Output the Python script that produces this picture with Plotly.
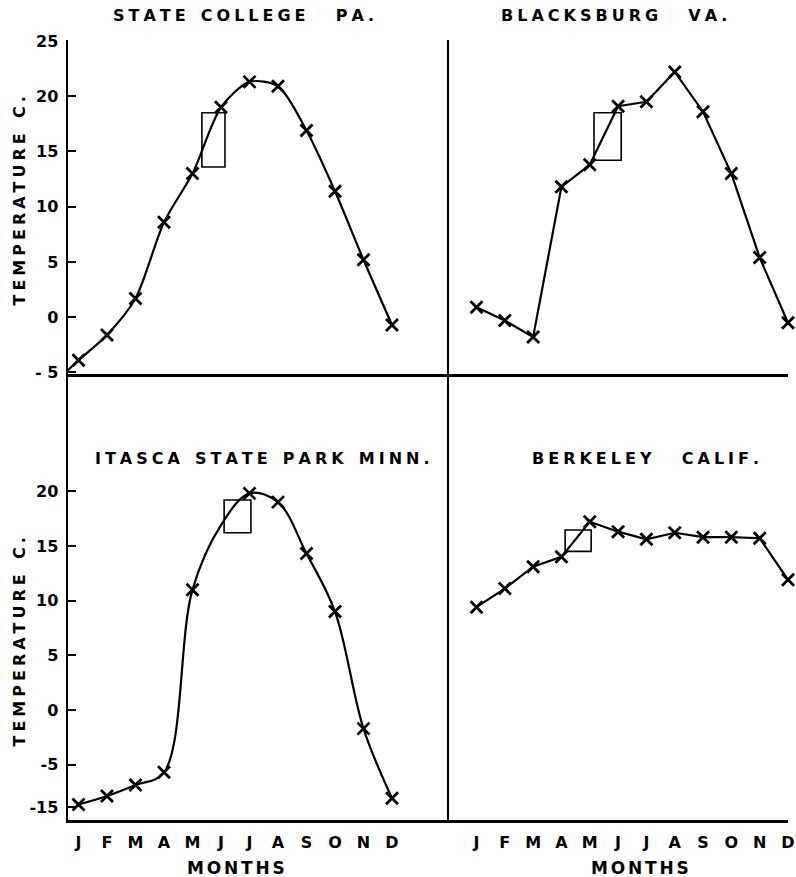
import plotly.graph_objects as go

# ---------------- data ----------------
months = ["J", "F", "M", "A", "M", "J", "J", "A", "S", "O", "N", "D"]
month_idx = list(range(12))

state_college = [-3.9, -1.6, 1.7, 8.6, 13.0, 19.0, 21.3, 20.9, 16.9, 11.4, 5.2, -0.7]
state_college_at_axis = -4.8          # where the curve meets the y axis (left of Jan)
blacksburg = [0.9, -0.3, -1.8, 11.8, 13.8, 19.1, 19.5, 22.2, 18.6, 13.0, 5.4, -0.5]
itasca = [-14.4, -12.4, -9.8, -6.8, 11.0, 16.9, 19.8, 19.0, 14.3, 9.0, -1.7, -12.9]
itasca_marked = [True, True, True, True, True, False, True, True, True, True, True, True]
berkeley = [9.4, 11.1, 13.1, 14.0, 17.2, 16.3, 15.6, 16.2, 15.8, 15.8, 15.7, 11.9]

# small rectangles drawn in each panel: (month from, month to, deg low, deg high)
box_state_college = (4.33, 5.14, 13.6, 18.5)
box_blacksburg = (4.15, 5.11, 14.2, 18.5)
box_itasca = (5.11, 6.05, 16.2, 19.2)
box_berkeley = (3.13, 4.05, 14.5, 16.45)

top_ticks = [25, 20, 15, 10, 5, 0, -5]
top_ticktext = ["25", "20", "15", "10", "5", "0", "- 5"]
bottom_ticks = [20, 15, 10, 5, 0, -5, -15]
bottom_ticktext = ["20", "15", "10", "5", "0", "-5", "-15"]

titles = ["STATE COLLEGE  PA.", "BLACKSBURG  VA.", "ITASCA STATE PARK MINN.", "BERKELEY  CALIF."]

# The lower-left axis is broken: the stretch below -5 is compressed.
BREAK = -5.0
COMPRESS = 0.3867


def brk(v):
    return v if v >= BREAK else BREAK + (v - BREAK) * COMPRESS


FONT = "DejaVu Sans"
LG = "\u2005"                     # letter gap
WG = "\u00a0\u00a0\u2005"         # word gap


def spaced(s, gap=LG, wordgap=WG):
    out = []
    for w in s.split(" "):
        out.append(gap.join(list(w)) if w else "")
    return wordgap.join(out)


fig = go.Figure()

line = dict(color="black", width=2.2)
mk = dict(symbol="x-thin", size=12, color="black", line=dict(color="black", width=2.8))

# State College (top-left)
fig.add_trace(go.Scatter(x=[-0.368] + month_idx, y=[state_college_at_axis] + state_college,
                         mode="lines", line=dict(shape="spline", smoothing=0.8, **line),
                         xaxis="x", yaxis="y", hoverinfo="skip", cliponaxis=False))
fig.add_trace(go.Scatter(x=month_idx, y=state_college, mode="markers", marker=mk,
                         xaxis="x", yaxis="y", cliponaxis=False))

# Blacksburg (top-right)
fig.add_trace(go.Scatter(x=month_idx, y=blacksburg, mode="lines+markers", line=line, marker=mk,
                         xaxis="x2", yaxis="y2", cliponaxis=False))

# Itasca (bottom-left)
it_plot = [brk(v) for v in itasca]
fig.add_trace(go.Scatter(x=month_idx, y=it_plot, mode="lines",
                         line=dict(shape="spline", smoothing=1.0, **line),
                         xaxis="x3", yaxis="y3", cliponaxis=False))
fig.add_trace(go.Scatter(x=[m for m, k in zip(month_idx, itasca_marked) if k],
                         y=[v for v, k in zip(it_plot, itasca_marked) if k],
                         mode="markers", marker=mk, xaxis="x3", yaxis="y3", cliponaxis=False))

# Berkeley (bottom-right)
fig.add_trace(go.Scatter(x=month_idx, y=berkeley, mode="lines+markers", line=line, marker=mk,
                         xaxis="x4", yaxis="y4", cliponaxis=False))

# rectangles
for (x0, x1, y0, y1), (xr, yr) in [(box_state_college, ("x", "y")), (box_blacksburg, ("x2", "y2")),
                                   (box_itasca, ("x3", "y3")), (box_berkeley, ("x4", "y4"))]:
    fig.add_shape(type="rect", xref=xr, yref=yr, x0=x0, x1=x1, y0=y0, y1=y1,
                  line=dict(color="black", width=1.6), fillcolor="rgba(0,0,0,0)")

W, H = 796, 877
xl = [68 / W, 449 / W]
xr_ = [449 / W, 788 / W]
yt = [1 - 374 / H, 1 - 40 / H]
yb = [1 - 820 / H, 1 - 374 / H]

tickfont = dict(family=FONT, size=16, color="black", weight="bold")
base_x = dict(showgrid=False, zeroline=False, showline=True, linecolor="black", linewidth=2.5,
              ticks="", fixedrange=True, automargin=False)
base_y = dict(showgrid=False, zeroline=False, showline=True, linecolor="black", linewidth=2.5,
              fixedrange=True, automargin=False)

fig.update_layout(
    template="none",
    width=W, height=H, margin=dict(l=0, r=0, t=0, b=0, pad=0, autoexpand=False),
    paper_bgcolor="white", plot_bgcolor="white", showlegend=False, hovermode=False,
    xaxis=dict(domain=xl, range=[-0.368, 13.0], anchor="y", showticklabels=False, **base_x),
    xaxis2=dict(domain=xr_, range=[-0.97, 11.0], anchor="y2", showticklabels=False, **base_x),
    xaxis3=dict(domain=xl, range=[-0.368, 13.0], anchor="y3", tickmode="array", tickvals=month_idx,
                ticktext=months, tickfont=tickfont, ticklabelstandoff=6, **base_x),
    xaxis4=dict(domain=xr_, range=[-0.97, 11.0], anchor="y4", tickmode="array", tickvals=month_idx,
                ticktext=months, tickfont=tickfont, ticklabelstandoff=6, **base_x),
    yaxis=dict(domain=yt, range=[-5.14, 25.09], anchor="x", tickmode="array", tickvals=top_ticks,
               ticktext=top_ticktext, ticks="inside", ticklen=8, tickwidth=2, tickcolor="black",
               tickfont=tickfont, ticklabelstandoff=4, **base_y),
    yaxis2=dict(domain=yt, range=[-5.14, 25.09], anchor="x2", showticklabels=False, ticks="", **base_y),
    yaxis3=dict(domain=yb, range=[-10.05, 30.71], anchor="x3", tickmode="array",
                tickvals=[brk(v) for v in bottom_ticks], ticktext=bottom_ticktext, ticks="inside",
                ticklen=8, tickwidth=2, tickcolor="black", tickfont=tickfont, ticklabelstandoff=4,
                **base_y),
    yaxis4=dict(domain=yb, range=[-10.05, 30.71], anchor="x4", showticklabels=False, ticks="", **base_y),
)

afont = dict(family=FONT, size=16, color="black", weight="bold")
ann = []
for text, cx, cy in [(titles[0], 243, 16), (titles[1], 614, 16), (titles[2], 262, 459), (titles[3], 645, 458)]:
    ann.append(dict(text=spaced(text), x=cx / W, y=1 - cy / H, xref="paper", yref="paper",
                    showarrow=False, font=afont, xanchor="center", yanchor="middle"))
for cy in [201, 642]:
    ann.append(dict(text=spaced("TEMPERATURE C."), x=18.5 / W, y=1 - cy / H, xref="paper", yref="paper",
                    showarrow=False, font=afont, textangle=-90, xanchor="center", yanchor="middle"))
for cx in [236, 640]:
    ann.append(dict(text=spaced("MONTHS", gap="\u2006"), x=cx / W, y=1 - 868 / H, xref="paper", yref="paper",
                    showarrow=False, font=dict(family=FONT, size=17, color="black", weight="bold"),
                    xanchor="center", yanchor="middle"))
fig.update_layout(annotations=ann)

fig.write_html("out.html", config={"displayModeBar": False, "staticPlot": True},
               post_script="document.body.style.margin='0';")
